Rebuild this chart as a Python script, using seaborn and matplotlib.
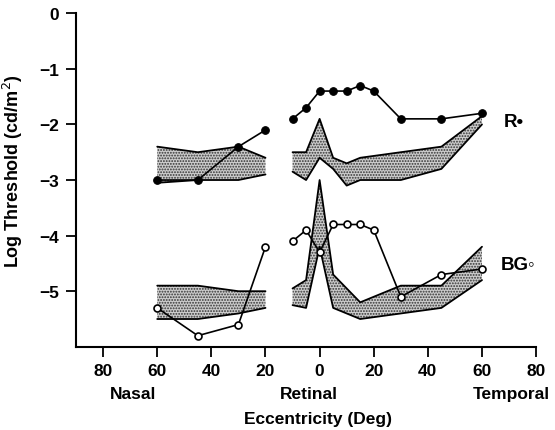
"""Log threshold vs retinal eccentricity (R and BG)."""
import matplotlib
matplotlib.use("Agg")
import matplotlib.pyplot as plt
import matplotlib.transforms as mtransforms
import pandas as pd
import seaborn as sns

# eccentricity in degrees, nasal side negative
r_nasal_x = [-60, -45, -30, -20]
r_nasal_y = [-3.0, -3.0, -2.4, -2.1]
r_temp_x = [-10, -5, 0, 5, 10, 15, 20, 30, 45, 60]
r_temp_y = [-1.9, -1.7, -1.4, -1.4, -1.4, -1.3, -1.4, -1.9, -1.9, -1.8]

bg_nasal_x = [-60, -45, -30, -20]
bg_nasal_y = [-5.3, -5.8, -5.6, -4.2]
bg_temp_x = [-10, -5, 0, 5, 10, 15, 20, 30, 45, 60]
bg_temp_y = [-4.1, -3.9, -4.3, -3.8, -3.8, -3.8, -3.9, -5.1, -4.7, -4.6]

# normal ranges (shaded bands)
band_nasal_x = [-60, -45, -30, -20]
r_band_nasal_hi = [-2.4, -2.5, -2.4, -2.6]
r_band_nasal_lo = [-3.05, -3.0, -3.0, -2.9]
bg_band_nasal_hi = [-4.9, -4.9, -5.0, -5.0]
bg_band_nasal_lo = [-5.5, -5.5, -5.4, -5.3]

band_temp_x = [-10, -5, 0, 5, 10, 15, 30, 45, 60]
r_band_temp_hi = [-2.5, -2.5, -1.9, -2.6, -2.7, -2.6, -2.5, -2.4, -1.85]
r_band_temp_lo = [-2.85, -3.0, -2.6, -2.8, -3.1, -3.0, -3.0, -2.8, -2.0]
bg_band_temp_hi = [-4.95, -4.8, -3.0, -4.7, -4.95, -5.2, -4.9, -4.9, -4.2]
bg_band_temp_lo = [-5.25, -5.3, -4.2, -5.3, -5.4, -5.5, -5.4, -5.3, -4.8]

xticks = [-80, -60, -40, -20, 0, 20, 40, 60, 80]
yticks = [0, -1, -2, -3, -4, -5]

sns.set_theme(style="ticks")
plt.rcParams["font.family"] = ["Liberation Sans", "DejaVu Sans"]
plt.rcParams["hatch.linewidth"] = 0.9
plt.rcParams["text.color"] = "black"
plt.rcParams["axes.labelcolor"] = "black"


def make_df(parts):
    rows = []
    for seg, (xs, ys) in enumerate(parts):
        for x, y in zip(xs, ys):
            rows.append({"ecc": x, "thr": y, "seg": seg})
    return pd.DataFrame(rows)


fig = plt.figure(figsize=(5.55, 4.31), dpi=100)
ax = fig.add_axes([0.137, 0.193, 0.829, 0.774])

bands = [
    (band_nasal_x, r_band_nasal_hi, r_band_nasal_lo),
    (band_nasal_x, bg_band_nasal_hi, bg_band_nasal_lo),
    (band_temp_x, r_band_temp_hi, r_band_temp_lo),
    (band_temp_x, bg_band_temp_hi, bg_band_temp_lo),
]
for bx, hi, lo in bands:
    ax.fill_between(bx, lo, hi, facecolor="#cccccc", edgecolor="#333333",
                    hatch="......", linewidth=0, zorder=1)
    ax.plot(bx, hi, color="black", lw=1.3, zorder=2)
    ax.plot(bx, lo, color="black", lw=1.3, zorder=2)

r_df = make_df([(r_nasal_x, r_nasal_y), (r_temp_x, r_temp_y)])
bg_df = make_df([(bg_nasal_x, bg_nasal_y), (bg_temp_x, bg_temp_y)])

sns.lineplot(data=r_df, x="ecc", y="thr", units="seg", estimator=None,
             color="black", lw=1.2, marker="o", markersize=5.5,
             markerfacecolor="black", markeredgecolor="black", ax=ax, zorder=4)
sns.lineplot(data=bg_df, x="ecc", y="thr", units="seg", estimator=None,
             color="black", lw=1.2, marker="o", markersize=5,
             markerfacecolor="white", markeredgecolor="black",
             markeredgewidth=1.2, ax=ax, zorder=4)

ax.set_xlim(-90, 80)
ax.set_ylim(-6, 0)
ax.set_xticks(xticks)
ax.set_xticklabels([str(abs(t)) for t in xticks])
ax.set_yticks(yticks)
ax.set_yticklabels(["0"] + ["\u2212%d" % abs(t) for t in yticks[1:]])
ax.tick_params(axis="both", direction="out", length=7, width=1.3,
               labelsize=12.5, colors="black", pad=5)
for lab in ax.get_xticklabels() + ax.get_yticklabels():
    lab.set_fontweight("bold")

sns.despine(ax=ax)
for side in ["left", "bottom"]:
    ax.spines[side].set_linewidth(1.5)
    ax.spines[side].set_color("black")

ax.set_xlabel("Eccentricity (Deg)", fontsize=12.5, fontweight="bold",
              va="center")
ax.xaxis.set_label_coords(0.526, -0.216)
ax.set_ylabel("Log Threshold (cd/m$^2$)", fontsize=13, fontweight="bold")
ax.yaxis.set_label_coords(-0.11, 0.53)

trans = mtransforms.blended_transform_factory(ax.transData, ax.transAxes)
for label, xpos in [("Nasal", -69), ("Retinal", -4), ("Temporal", 71)]:
    ax.text(xpos, -0.14, label, transform=trans, ha="center", va="center",
            fontsize=12.5, fontweight="bold")

ax.text(68, -1.95, "R\u2022", fontsize=13.5, fontweight="bold", va="center")
ax.text(67, -4.52, "BG\u25e6", fontsize=13.5, fontweight="bold", va="center")

fig.savefig("out.png", dpi=100)
